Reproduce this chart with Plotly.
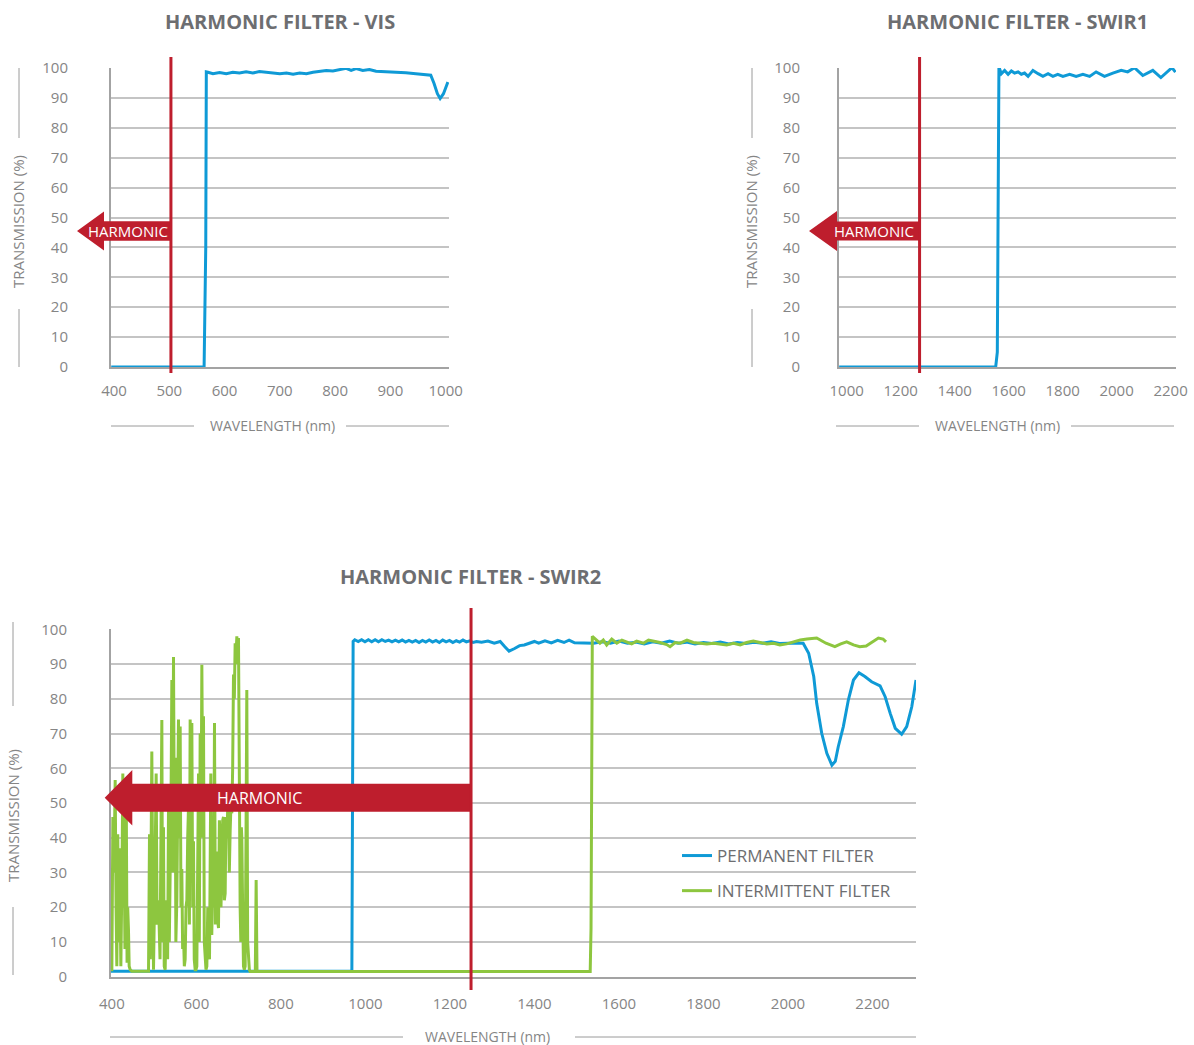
import plotly.graph_objects as go

# ---------------- DATA ----------------
VIS_WL = [395, 563, 566, 567, 570, 579, 591, 603, 615, 627, 639, 651, 663, 675, 688, 700, 712, 724,
          736, 748, 760, 772, 784, 796, 808, 820, 829, 838, 850, 862, 874, 892, 910, 928, 946, 955,
          964, 973, 979, 985, 990, 996, 1004]
VIS_T = [0, 0, 40, 98.7, 98.6, 98.1, 98.5, 98.1, 98.6, 98.3, 98.7, 98.3, 98.8, 98.6, 98.3, 98.1, 98.3,
         97.9, 98.3, 98.1, 98.6, 98.8, 99.2, 99.0, 99.4, 99.9, 99.2, 99.8, 99.2, 99.5, 98.9, 98.8, 98.6,
         98.4, 98.1, 97.9, 97.6, 97.6, 94.8, 91.4, 89.8, 91.4, 95.3]

SWIR1_WL = [972, 1552, 1558, 1564, 1573, 1585, 1598, 1610, 1622, 1635, 1647, 1659, 1672, 1690, 1709,
            1727, 1746, 1764, 1782, 1801, 1826, 1850, 1875, 1900, 1924, 1955, 1986, 2017, 2041, 2066,
            2097, 2134, 2164, 2205, 2218]
SWIR1_T = [0, 0, 5, 100.3, 98.1, 99.2, 97.9, 99.0, 98.3, 98.7, 97.9, 98.3, 97.2, 99.2, 98.1, 97.2,
           98.1, 97.2, 97.9, 97.2, 97.9, 97.2, 97.9, 97.2, 98.7, 97.2, 98.3, 99.2, 98.7, 100.1, 97.5,
           99.2, 96.8, 100.1, 98.6]

SWIR2_PERM_WL = [398, 968, 971, 975, 983, 991, 999, 1007, 1015, 1023, 1031, 1039, 1047, 1055, 1063,
                 1071, 1079, 1087, 1095, 1103, 1111, 1119, 1127, 1135, 1143, 1151, 1159, 1167, 1175,
                 1183, 1191, 1199, 1207, 1215, 1223, 1231, 1239, 1247, 1255, 1263, 1275, 1290, 1305,
                 1319, 1330, 1340, 1352, 1365, 1376, 1390, 1400, 1410, 1425, 1440, 1455, 1470, 1482,
                 1495, 1510, 1525, 1540, 1560, 1580, 1600, 1620, 1640, 1660, 1680, 1700, 1720, 1740,
                 1760, 1780, 1800, 1820, 1840, 1860, 1880, 1900, 1920, 1940, 1960, 1980, 2000, 2020,
                 2036, 2049, 2061, 2068, 2080, 2092, 2104, 2112, 2119, 2131, 2143, 2155, 2168, 2182,
                 2198, 2218, 2230, 2242, 2254, 2269, 2281, 2293, 2303]
SWIR2_PERM_T = [1.6, 1.6, 96.5, 97.0, 96.5, 97.0, 96.4, 97.0, 96.4, 97.0, 96.4, 97.0, 96.5, 96.9, 96.4,
                96.9, 96.4, 96.9, 96.3, 96.8, 96.3, 96.8, 96.2, 96.8, 96.3, 96.9, 96.3, 96.8, 96.2,
                96.9, 96.4, 96.8, 96.2, 96.7, 96.3, 96.9, 96.4, 96.7, 96.2, 96.5, 96.3, 96.6, 96.0,
                96.5, 95.0, 93.7, 94.4, 95.3, 95.5, 96.2, 96.5, 96.0, 96.7, 96.1, 96.8, 96.2, 96.9,
                96.1, 96.1, 96.1, 96.0, 96.4, 96.0, 96.6, 96.0, 96.3, 95.8, 96.4, 96.0, 96.6, 96.0,
                96.3, 95.8, 96.2, 95.9, 96.3, 95.8, 96.2, 95.9, 96.3, 96.0, 96.4, 95.9, 96.0, 96.1,
                96.0, 93.1, 86.4, 78.7, 70.0, 64.3, 60.9, 62.0, 66.2, 72.0, 79.7, 85.4, 87.5, 86.4,
                84.9, 83.7, 80.6, 75.8, 71.5, 69.8, 72.0, 77.7, 85.4]

SWIR2_INT_WL = [400, 402.4, 405, 407.9, 410, 411.8, 414, 416, 418.1, 420, 421.3, 424, 426, 428, 429.2,
                431, 433.9, 436, 437.5, 439.4, 441, 443.4, 447.3, 486.8, 489.1, 491, 494.6, 497, 498.6,
                502, 504.9, 507, 510.4, 514, 518.3, 520, 522.2, 524, 526.2, 528, 530.1, 532, 534.1,
                536, 538, 540, 542, 544, 545.9, 548, 549.9, 551.5, 553.8, 555.5, 557.7, 559.5, 561.7,
                563.5, 565.6, 567.5, 569.6, 571.5, 573.5, 575.5, 577.5, 579.5, 581.4, 583.5, 585.3,
                587.3, 589.3, 591.3, 593.2, 595, 597.2, 599, 601.1, 603, 605.1, 607, 609, 611, 613,
                615, 616.9, 618.8, 620.8, 622.8, 624.8, 627, 631.1, 633, 634.2, 636.5, 639, 641, 642.9,
                645, 646.9, 649, 652.4, 654.5, 656.3, 658.3, 660.3, 662.3, 664.2, 666.2, 668.2, 670.1,
                672.1, 674.1, 676.1, 678, 680, 682, 683.9, 685.9, 687.9, 689.9, 691.8, 693.8, 695.8,
                697.7, 699.7, 701, 702.1, 703.6, 705.2, 706.5, 707.6, 709.5, 711.5, 713.5, 715.5,
                717.5, 719.4, 721.4, 723.4, 725.4, 727.3, 739.5, 741.5, 743.5, 1532, 1534, 1537, 1545,
                1555, 1563, 1571, 1583, 1595, 1607, 1619, 1630, 1642, 1658, 1670, 1682, 1697, 1713,
                1721, 1733, 1745, 1761, 1776, 1792, 1808, 1824, 1839, 1855, 1871, 1887, 1902, 1918,
                1934, 1950, 1966, 1981, 1997, 2013, 2029, 2045, 2060, 2068, 2090, 2111, 2125, 2139,
                2155, 2170, 2185, 2200, 2214, 2225, 2232]
SWIR2_INT_T = [1.6, 46, 30, 56.6, 20, 3, 41, 10, 37, 5, 3, 30, 58.5, 20, 35.5,
               8, 56.6, 4, 20, 13.4, 3, 2, 1.6, 1.6, 41, 5, 64.8, 20, 2,
               30, 58.5, 15, 22, 5, 73.9, 10, 43, 3, 2, 15, 22, 5, 49,
               10, 24, 50, 85.4, 30, 92, 40, 63, 10, 22, 60, 74, 40, 72,
               20, 31, 8, 12, 3, 5, 20, 22, 40, 49, 15, 74,
               60, 73, 20, 39, 5, 2, 2, 3, 30, 58.5, 10, 70, 40, 89.8,
               50, 75, 10, 3, 2, 3, 20, 5, 30, 58.5, 12, 31, 20, 73,
               15, 36, 18, 14, 45, 41, 20, 33, 45, 46, 22, 24, 46,
               40, 48, 46, 30, 42, 50, 47, 60, 87, 80, 96, 92, 98,
               90, 97.5, 60, 44, 20, 10, 43, 40, 20, 3, 2, 3,
               40, 82.5, 10, 3, 2, 1.5, 1.5, 27.8, 1.5, 1.5, 14, 98, 97.2,
               96.0, 96.9, 95.5, 97.2, 96.0, 96.9, 96.4, 95.8, 96.6, 96.0, 96.9, 96.6, 96.2, 95.6,
               95.0, 96.2, 96.0, 96.9, 96.2, 96.0, 95.8, 96.0, 95.8, 95.5, 96.0, 95.5, 96.2, 96.6,
               96.2, 95.8, 96.0, 95.5, 95.8, 96.4, 96.9, 97.2, 97.4, 97.5, 96.0, 95.0, 95.8, 96.4,
               95.5, 95.0, 95.2, 96.5, 97.5, 97.2, 96.4]

HARMONIC_CUTOFF = {"VIS": 503, "SWIR1": 1270, "SWIR2": 1250}
TITLES = ["HARMONIC FILTER - VIS", "HARMONIC FILTER - SWIR1", "HARMONIC FILTER - SWIR2"]
SERIES_NAMES = ["PERMANENT FILTER", "INTERMITTENT FILTER"]
Y_TICKS = [0, 10, 20, 30, 40, 50, 60, 70, 80, 90, 100]
VIS_TICKS = [400, 500, 600, 700, 800, 900, 1000]
SWIR1_TICKS = [1000, 1200, 1400, 1600, 1800, 2000, 2200]
SWIR2_TICKS = [400, 600, 800, 1000, 1200, 1400, 1600, 1800, 2000, 2200]

# ---------------- STYLE / LAYOUT ----------------
W, H = 1194, 1045
BLUE = "#0f9ad6"
GREEN = "#8dc63f"
RED = "#be1e2d"
GRID = "#c4c4c4"
AXIS = "#a3a3a3"
TICK_C = "#858585"
TITLE_C = "#6d6e71"
FONT = "Open Sans"


def px(x):
    return x / W


def py(y):
    return 1 - y / H


# subplot pixel boxes (window coordinates): (left, right, top, bottom) and x ranges
BOX = {
    "VIS": (111, 449, 68, 367),
    "SWIR1": (839, 1176, 68, 367),
    "SWIR2": (111, 916, 629.3, 976.7),
}
XRANGE = {"VIS": [394.6, 1006], "SWIR1": [971.5, 2220], "SWIR2": [398, 2303]}

fig = go.Figure()

fig.add_trace(go.Scatter(x=VIS_WL, y=VIS_T, mode="lines", line=dict(color=BLUE, width=3),
                         xaxis="x", yaxis="y", showlegend=False, cliponaxis=False))
fig.add_trace(go.Scatter(x=SWIR1_WL, y=SWIR1_T, mode="lines", line=dict(color=BLUE, width=3),
                         xaxis="x2", yaxis="y2", showlegend=False, cliponaxis=False))
fig.add_trace(go.Scatter(x=SWIR2_PERM_WL, y=SWIR2_PERM_T, mode="lines", name=SERIES_NAMES[0],
                         line=dict(color=BLUE, width=3), xaxis="x3", yaxis="y3",
                         legendgroup="a", cliponaxis=False))
fig.add_trace(go.Scatter(x=SWIR2_INT_WL, y=SWIR2_INT_T, mode="lines", name=SERIES_NAMES[1],
                         line=dict(color=GREEN, width=3), xaxis="x3", yaxis="y3",
                         legendgroup="b", cliponaxis=False))


def xaxis_cfg(key, ticks, standoff, anchor):
    l, r, t, b = BOX[key]
    return dict(domain=[px(l), px(r)], range=XRANGE[key], tickvals=ticks, showgrid=False,
                zeroline=False, showline=True, linecolor=AXIS, linewidth=2, ticks="",
                tickfont=dict(family=FONT, size=15, color=TICK_C), ticklabelstandoff=standoff,
                layer="below traces", fixedrange=True, automargin=False, anchor=anchor)


def yaxis_cfg(key, anchor, standoff):
    l, r, t, b = BOX[key]
    return dict(domain=[py(b), py(t)], range=[0, 100], tickvals=Y_TICKS, anchor=anchor,
                showgrid=True, gridcolor=GRID, gridwidth=1.5, zeroline=False, showline=True,
                linecolor=AXIS, linewidth=2, ticks="", ticklabelstandoff=standoff,
                tickfont=dict(family=FONT, size=15, color=TICK_C), layer="below traces",
                fixedrange=True, automargin=False)


fig.update_layout(
    width=W, height=H, margin=dict(l=0, r=0, t=0, b=0, autoexpand=False),
    paper_bgcolor="white", plot_bgcolor="white",
    font=dict(family=FONT, color=TITLE_C),
    xaxis=xaxis_cfg("VIS", VIS_TICKS, 9, "y"),
    yaxis=yaxis_cfg("VIS", "x", 38),
    xaxis2=xaxis_cfg("SWIR1", SWIR1_TICKS, 9, "y2"),
    yaxis2=yaxis_cfg("SWIR1", "x2", 34),
    xaxis3=xaxis_cfg("SWIR2", SWIR2_TICKS, 12, "y3"),
    yaxis3=yaxis_cfg("SWIR2", "x3", 39),
    legend=dict(x=px(677), y=py(838), xanchor="left", yanchor="top",
                font=dict(family=FONT, size=17, color=TITLE_C), bgcolor="rgba(0,0,0,0)",
                traceorder="grouped", tracegroupgap=10, itemwidth=30),
)

shapes = []
annots = []


def data_x(key, v):
    l, r, t, b = BOX[key]
    x0, x1 = XRANGE[key]
    return l + (v - x0) / (x1 - x0) * (r - l)


# titles
for key, title, (cx, cy) in zip(["VIS", "SWIR1", "SWIR2"], TITLES,
                                [(280, 22), (1017, 22), (470, 576)]):
    annots.append(dict(text=f"<b>{title}</b>", x=px(cx), y=py(cy), xref="paper", yref="paper",
                       showarrow=False, xanchor="center", yanchor="middle",
                       font=dict(family=FONT, size=20, color=TITLE_C)))

# axis titles with decorative lines
XT = {"VIS": (272, 425, [(111, 194), (346, 449)]),
      "SWIR1": (997, 425, [(836, 919), (1071, 1174)]),
      "SWIR2": (488, 1036, [(110, 403), (575, 916)])}
YT = {"VIS": (18, 222, 19, [(68, 138), (309, 367)]),
      "SWIR1": (751, 222, 752, [(68, 138), (309, 367)]),
      "SWIR2": (13, 816, 13, [(622, 706), (907, 975)])}
for key, (cx, cy, segs) in XT.items():
    annots.append(dict(text="WAVELENGTH (nm)", x=px(cx), y=py(cy), xref="paper", yref="paper",
                       showarrow=False, xanchor="center", yanchor="middle",
                       font=dict(family=FONT, size=14, color=TICK_C)))
    for a, b in segs:
        shapes.append(dict(type="line", xref="paper", yref="paper", x0=px(a), x1=px(b),
                           y0=py(cy + 1), y1=py(cy + 1), line=dict(color="#9a9a9a", width=1)))
for key, (cx, cy, lx, segs) in YT.items():
    annots.append(dict(text="TRANSMISSION (%)", x=px(cx), y=py(cy), xref="paper", yref="paper",
                       showarrow=False, xanchor="center", yanchor="middle", textangle=-90,
                       font=dict(family=FONT, size=15, color=TICK_C)))
    for a, b in segs:
        shapes.append(dict(type="line", xref="paper", yref="paper", x0=px(lx), x1=px(lx),
                           y0=py(a), y1=py(b), line=dict(color="#9a9a9a", width=1)))

# harmonic cutoff lines and arrows
ARROW = {  # tip x, head base x, center y, body half, head half, text x, line top, line bottom, font
    "VIS": (77, 104, 231, 9.7, 19.5, 128, 57, 373, 15),
    "SWIR1": (809, 837, 231, 9.5, 20, 874, 57, 373, 15),
    "SWIR2": (104.7, 132.3, 797.7, 14, 27.8, 259, 608, 990, 16),
}
for key, (tip, base, cy, bh, hh, tx, lt, lb, fs) in ARROW.items():
    xe = data_x(key, HARMONIC_CUTOFF[key])
    path = (f"M{px(tip)},{py(cy)} L{px(base)},{py(cy - hh)} L{px(base)},{py(cy - bh)} "
            f"L{px(xe)},{py(cy - bh)} L{px(xe)},{py(cy + bh)} L{px(base)},{py(cy + bh)} "
            f"L{px(base)},{py(cy + hh)} Z")
    shapes.append(dict(type="path", path=path, xref="paper", yref="paper", fillcolor=RED,
                       line=dict(width=0), layer="above"))
    shapes.append(dict(type="line", xref="paper", yref="paper", x0=px(xe), x1=px(xe),
                       y0=py(lt), y1=py(lb), line=dict(color=RED, width=3), layer="above"))
    annots.append(dict(text="HARMONIC", x=px(tx), y=py(cy), xref="paper", yref="paper",
                       showarrow=False, xanchor="center", yanchor="middle",
                       font=dict(family=FONT, size=fs, color="white")))

fig.update_layout(shapes=shapes, annotations=annots)
fig.write_html(
    "out.html",
    config={"displayModeBar": False},
    post_script="document.body.style.margin='0';document.body.style.overflow='hidden';",
)
